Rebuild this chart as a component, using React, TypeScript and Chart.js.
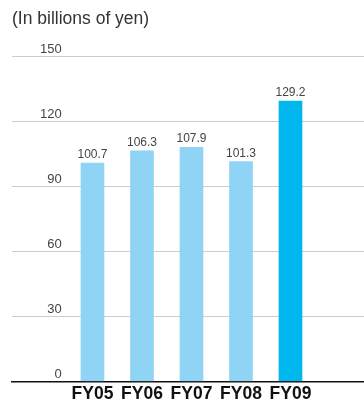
import React, { useEffect, useRef } from "react";
import { Chart, registerables } from "chart.js";

Chart.register(...registerables);

const categories = ["FY05", "FY06", "FY07", "FY08", "FY09"];
const values = [100.7, 106.3, 107.9, 101.3, 129.2];
const barColors = ["#8fd4f5", "#8fd4f5", "#8fd4f5", "#8fd4f5", "#00b7ee"];
const yTicks = [0, 30, 60, 90, 120, 150];
const unitLabel = "(In billions of yen)";

const valueLabels = {
  id: "valueLabels",
  afterDatasetsDraw(chart: any) {
    const ctx = chart.ctx;
    const meta = chart.getDatasetMeta(0);
    ctx.save();
    ctx.font = "12px 'Liberation Sans', Arial, sans-serif";
    ctx.fillStyle = "#444";
    ctx.textAlign = "center";
    ctx.textBaseline = "alphabetic";
    meta.data.forEach((el: any, i: number) => {
      ctx.fillText(values[i].toFixed(1), el.x, el.y - 5);
    });
    ctx.restore();
  },
};

export default function App() {
  const ref = useRef<HTMLCanvasElement>(null);
  useEffect(() => {
    if (!ref.current) return;
    const chart = new Chart(ref.current, {
      type: "bar",
      data: {
        datasets: [
          {
            data: values.map((v, i) => ({ x: i, y: v })),
            backgroundColor: barColors,
            barThickness: 23,
          },
        ],
      },
      options: {
        animation: false,
        responsive: false,
        layout: { padding: { left: 12, right: 0, top: 0, bottom: -5 } },
        plugins: {
          legend: { display: false },
          tooltip: { enabled: false },
          title: {
            display: true,
            text: unitLabel,
            align: "start",
            color: "#333",
            font: { family: "'Liberation Sans', Arial, sans-serif", size: 17.5, weight: "normal", lineHeight: 1.2 },
            padding: { top: 9, bottom: 26 },
          },
        },
        scales: {
          x: {
            type: "linear",
            offset: false,
            min: -1.626,
            max: 5.485,
            grid: { display: false, drawTicks: false, tickLength: 0 },
            border: { display: true, color: "#111", width: 1.5 },
            afterBuildTicks: (scale: any) => {
              scale.ticks = categories.map((_, i) => ({ value: i }));
            },
            afterFit: (scale: any) => {
              scale.paddingLeft = 0;
              scale.paddingRight = 0;
            },
            ticks: {
              autoSkip: false,
              maxRotation: 0,
              padding: 3.5,
              color: "#111",
              font: { family: "'Liberation Sans', Arial, sans-serif", size: 17.5, weight: "bold", lineHeight: 1.0 },
              callback: (v: any) => categories[v] ?? "",
            },
          },
          y: {
            min: 0,
            max: 150,
            afterBuildTicks: (scale: any) => {
              scale.ticks = yTicks.map((v) => ({ value: v }));
            },
            afterFit: (scale: any) => {
              scale.width = 0;
              scale.paddingTop = 0;
              scale.paddingBottom = 0;
            },
            grid: { color: "#cccccc", lineWidth: 1, drawTicks: false },
            border: { display: false },
            ticks: {
              mirror: true,
              crossAlign: "far",
              padding: 28,
              labelOffset: -7,
              color: "#444",
              font: { family: "'Liberation Sans', Arial, sans-serif", size: 13 },
            },
          },
        },
      },
      plugins: [valueLabels],
    } as any);
    return () => chart.destroy();
  }, []);
  return (
    <div style={{ position: "absolute", left: 0, top: 0, width: 364, height: 401, background: "#fff" }}>
      <canvas ref={ref} width={364} height={401} style={{ display: "block" }} />
    </div>
  );
}
